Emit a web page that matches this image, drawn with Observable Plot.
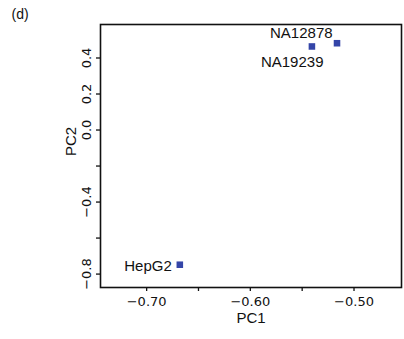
<!DOCTYPE html>
<html>
<head>
<meta charset="utf-8">
<script src="https://cdn.jsdelivr.net/npm/d3@7"></script>
<script src="https://cdn.jsdelivr.net/npm/@observablehq/plot@0.6"></script>
<style>
  html, body { margin: 0; padding: 0; background: #fff; }
</style>
</head>
<body>
<div id="chart"></div>
<script>
const panelTag = "(d)";
const samples = ["NA12878", "NA19239", "HepG2"];
const pc1 = [-0.5164, -0.5406, -0.668];
const pc2 = [0.482, 0.464, -0.748];
const xTicks = [-0.70, -0.65, -0.60, -0.55, -0.50];
const xTickLabels = ["−0.70", "", "−0.60", "", "−0.50"];
const yTicks = [-0.8, -0.6, -0.4, -0.2, 0.0, 0.2, 0.4];
const yTickLabels = ["−0.8", "", "−0.4", "", "0.0", "0.2", "0.4"];
const xTitle = "PC1";
const yTitle = "PC2";

const idx = samples.map((s, i) => i);
const labelAt = (v, ticks, labels) => labels[ticks.findIndex(t => Math.abs(t - v) < 1e-9)] ?? "";
const col = "#3445a8";
const tickFont = "'DejaVu Sans', sans-serif";

const chart = Plot.plot({
  width: 404,
  height: 339,
  marginLeft: 100,
  marginRight: 3,
  marginTop: 24,
  marginBottom: 52,
  x: { domain: [-0.7445, -0.4542] },
  y: { domain: [-0.8745, 0.586] },
  style: { fontFamily: "'Liberation Sans', Arial, Helvetica, sans-serif", fontSize: "15px", color: "#111", background: "#fff" },
  marks: [
    Plot.frame({ stroke: "#111", strokeWidth: 1.6 }),
    Plot.axisX({ ticks: xTicks, tickSize: 4, tickPadding: 5, tickFormat: d => labelAt(d, xTicks, xTickLabels), label: null, stroke: "#111", strokeWidth: 1.3, fontSize: 13, fontFamily: tickFont }),
    Plot.axisY({ ticks: yTicks, tickSize: 4, tickFormat: () => "", label: null, stroke: "#111", strokeWidth: 1.3 }),
    Plot.text(yTicks, { y: d => d, text: (d, i) => yTickLabels[i], frameAnchor: "left", dx: -14, rotate: -90, textAnchor: "middle", lineAnchor: "middle", fontSize: 13, fontFamily: tickFont }),
    Plot.text([xTitle], { text: d => d, frameAnchor: "bottom", dy: 31, lineAnchor: "middle", fontSize: 15 }),
    Plot.text([yTitle], { text: d => d, frameAnchor: "left", dx: -29, rotate: -90, lineAnchor: "middle", fontSize: 15 }),
    Plot.text([panelTag], { text: d => d, frameAnchor: "top-left", dx: -89, dy: -9.5, textAnchor: "start", lineAnchor: "middle", fontSize: 14 }),
    Plot.dot(idx, { x: i => pc1[i], y: i => pc2[i], symbol: "square", r: 3.7, fill: col }),
    Plot.text([0], { x: i => pc1[i], y: i => pc2[i], text: i => samples[i], dx: -35.7, dy: -10.3, lineAnchor: "middle", fontSize: 15 }),
    Plot.text([1], { x: i => pc1[i], y: i => pc2[i], text: i => samples[i], dx: -19.7, dy: 15.7, lineAnchor: "middle", fontSize: 15 }),
    Plot.text([2], { x: i => pc1[i], y: i => pc2[i], text: i => samples[i], dx: -8, dy: 1, textAnchor: "end", lineAnchor: "middle", fontSize: 15 })
  ]
});
document.getElementById("chart").appendChild(chart);
</script>
</body>
</html>
